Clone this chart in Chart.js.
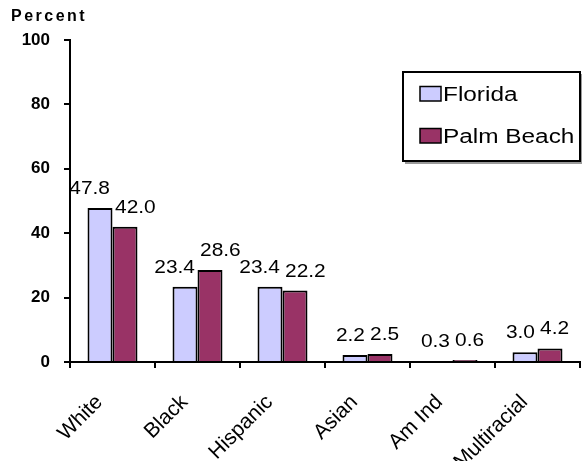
<!DOCTYPE html>
<html>
<head>
<meta charset="utf-8">
<script src="https://cdn.jsdelivr.net/npm/chart.js@4.4.1/dist/chart.umd.min.js"></script>
<style>
  html, body { margin: 0; padding: 0; background: #fff; }
  #wrap { position: relative; width: 582px; height: 461px; overflow: hidden; }
  canvas { display: block; }
</style>
</head>
<body>
<div id="wrap"><canvas id="c" width="582" height="461"></canvas></div>
<script>
// ---- data ----
const categories = ['White', 'Black', 'Hispanic', 'Asian', 'Am Ind', 'Multiracial'];
const florida    = [47.8, 23.4, 23.4, 2.2, 0.3, 3.0];
const palmBeach  = [42.0, 28.6, 22.2, 2.5, 0.6, 4.2];
const seriesNames = ['Florida', 'Palm Beach'];
const yTicks = [0, 20, 40, 60, 80, 100];
const yTitle = 'Percent';

const FONT = "'Liberation Sans', Arial, sans-serif";
const colors = ['#CCCCFF', '#993366'];

function stretchedText(ctx, text, x, y, sx, align) {
  ctx.save();
  ctx.translate(x, y);
  ctx.scale(sx, 1);
  ctx.textAlign = align;
  ctx.fillText(text, 0, 0);
  ctx.restore();
}

// value labels above bars, pushed apart when they would collide
const valueLabels = {
  id: 'valueLabels',
  afterDatasetsDraw(chart) {
    const ctx = chart.ctx;
    const sx = 1.13;
    ctx.save();
    ctx.font = '18.5px ' + FONT;
    ctx.fillStyle = '#000';
    ctx.textBaseline = 'alphabetic';
    const m0 = chart.getDatasetMeta(0).data;
    const m1 = chart.getDatasetMeta(1).data;
    for (let i = 0; i < categories.length; i++) {
      const t0 = florida[i].toFixed(1), t1 = palmBeach[i].toFixed(1);
      const w0 = ctx.measureText(t0).width * sx, w1 = ctx.measureText(t1).width * sx;
      const dist = m1[i].x - m0[i].x;
      const need = (w0 + w1) / 2 + 5;
      const shift = Math.max(0, (need - dist) / 2);
      stretchedText(ctx, t0, m0[i].x - shift, m0[i].y - 14, sx, 'center');
      stretchedText(ctx, t1, m1[i].x + shift, m1[i].y - 14, sx, 'center');
    }
    ctx.restore();
  }
};

// axis title + boxed legend
const extras = {
  id: 'extras',
  afterDraw(chart) {
    const ctx = chart.ctx;
    ctx.save();
    // title
    ctx.font = 'bold 16px ' + FONT;
    ctx.fillStyle = '#000';
    ctx.textAlign = 'left';
    ctx.textBaseline = 'alphabetic';
    try { ctx.letterSpacing = '2.5px'; } catch (e) {}
    ctx.fillText(yTitle, 11, 21);
    try { ctx.letterSpacing = '0px'; } catch (e) {}
    // legend box
    const lx = 403, ly = 72, lw = 177, lh = 89;
    ctx.fillStyle = '#9a9a9a';
    ctx.fillRect(lx + 2, ly + 2, lw + 1, lh + 1);
    ctx.fillStyle = '#fff';
    ctx.fillRect(lx, ly, lw, lh);
    ctx.lineWidth = 2;
    ctx.strokeStyle = '#000';
    ctx.strokeRect(lx, ly, lw, lh);
    ctx.font = '19.5px ' + FONT;
    ctx.textBaseline = 'alphabetic';
    chart.data.datasets.forEach((ds, k) => {
      const base = ly + 29 + k * 42;
      ctx.fillStyle = ds.backgroundColor;
      ctx.fillRect(lx + 17, base - 14.5, 21, 14.5);
      ctx.lineWidth = 1.5;
      ctx.strokeStyle = '#000';
      ctx.strokeRect(lx + 17, base - 14.5, 21, 14.5);
      ctx.fillStyle = '#000';
      stretchedText(ctx, ds.label, lx + 40, base, 1.25, 'left');
    });
    ctx.restore();
  }
};

new Chart(document.getElementById('c'), {
  type: 'bar',
  data: {
    labels: categories,
    datasets: [
      { label: seriesNames[0], data: florida, backgroundColor: colors[0], borderColor: '#000', borderWidth: 2 },
      { label: seriesNames[1], data: palmBeach, backgroundColor: colors[1], borderColor: '#000', borderWidth: 2 }
    ]
  },
  plugins: [valueLabels, extras],
  options: {
    responsive: false,
    animation: false,
    devicePixelRatio: 1,
    layout: { padding: { left: 0, right: 2, top: 40, bottom: 0 } },
    datasets: { bar: { categoryPercentage: 0.588, barPercentage: 1.0 } },
    plugins: { legend: { display: false }, tooltip: { enabled: false }, title: { display: false } },
    scales: {
      x: {
        grid: { offset: true, drawOnChartArea: false, drawTicks: true, tickLength: 6, color: '#000', lineWidth: 2 },
        border: { display: true, color: '#000', width: 2 },
        ticks: { color: '#000', font: { family: FONT, size: 21 }, maxRotation: 45, minRotation: 45, autoSkip: false, padding: 22, labelOffset: -13 },
        afterFit(s) { s.height = 99; }
      },
      y: {
        min: yTicks[0], max: yTicks[yTicks.length - 1],
        afterBuildTicks(s) { s.ticks = yTicks.map(v => ({ value: v })); },
        grid: { drawOnChartArea: false, drawTicks: true, tickLength: 6, color: '#000', lineWidth: 2 },
        border: { display: true, color: '#000', width: 2 },
        ticks: { color: '#000', font: { family: FONT, size: 17, weight: 'bold' }, padding: 14 },
        afterFit(s) { s.width = 70; }
      }
    }
  }
});
</script>
</body>
</html>
